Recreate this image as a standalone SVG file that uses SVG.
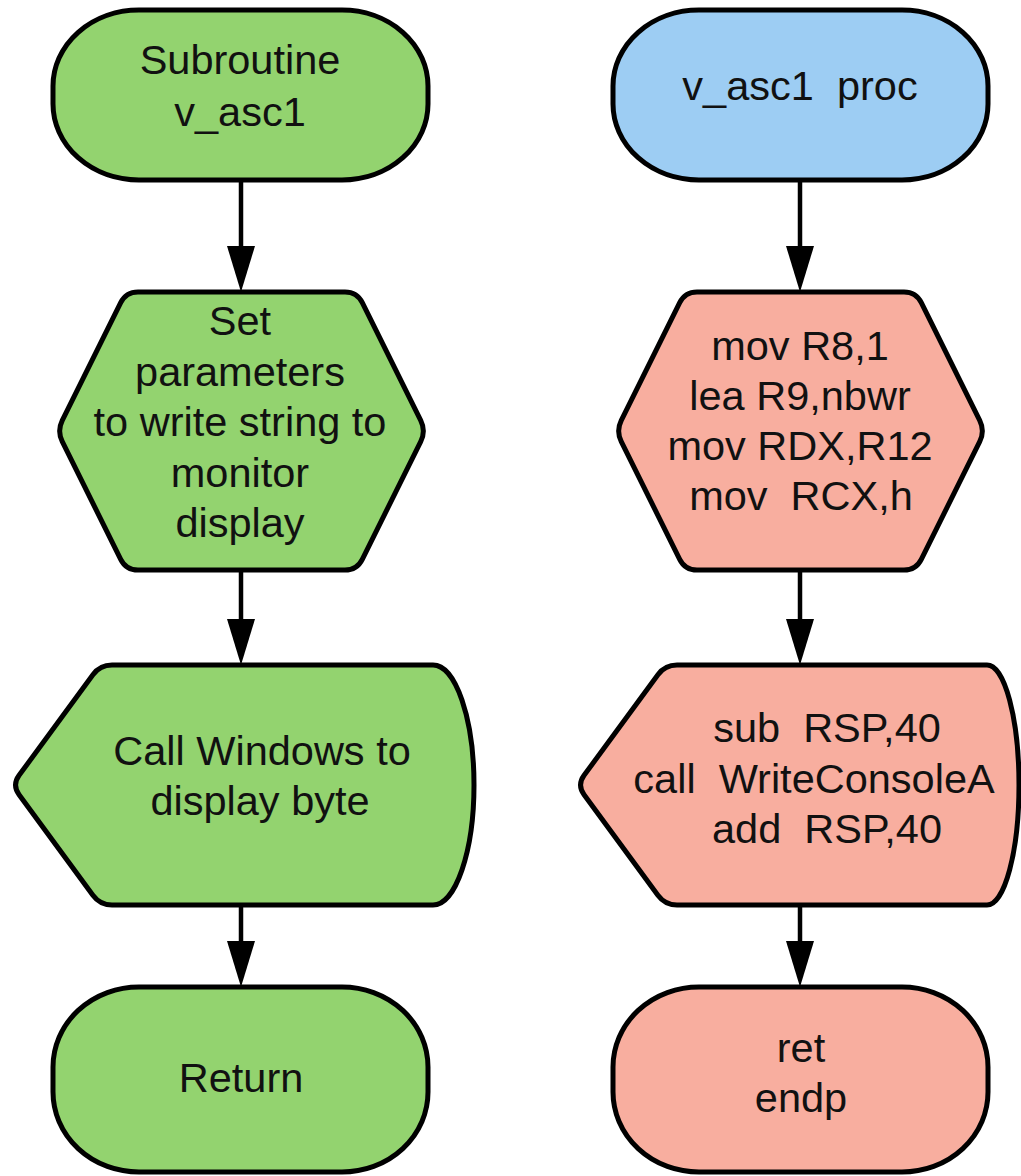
<svg xmlns="http://www.w3.org/2000/svg" width="1021" height="1176" viewBox="0 0 1021 1176">
  <style>
    .shape { stroke: #000; stroke-width: 5; stroke-linejoin: round; }
    .green { fill: #93d36f; }
    .blue { fill: #9dcdf3; }
    .pink { fill: #f8ae9f; }
    .label { font-family: "Liberation Sans", Arial, sans-serif; font-size: 41.5px; fill: #111; text-anchor: middle; }
    .conn { stroke: #000; stroke-width: 4.5; fill: none; }
  </style>
  <defs>
    <!-- arrowhead: tip sits 40px past the end of the line -->
    <marker id="arrow" viewBox="0 -14 46 28" refX="6" refY="0" markerWidth="46" markerHeight="28" markerUnits="userSpaceOnUse" orient="auto">
      <path d="M0,-14 L46,0 L0,14 Z" fill="#000"/>
    </marker>
    <!-- preparation hexagon, centred on the origin -->
    <path id="hex" d="M-103.5,-139 L103.5,-139 Q115.5,-139 120.8,-128.3 L179.2,-10.7 Q184.5,0 179.2,10.7 L120.8,128.3 Q115.5,139 103.5,139 L-103.5,139 Q-115.5,139 -120.8,128.3 L-179.2,10.7 Q-184.5,0 -179.2,-10.7 L-120.8,-128.3 Q-115.5,-139 -103.5,-139 Z"/>
  </defs>

  <g id="connectors">
    <line class="conn" x1="241" y1="182" x2="241" y2="252" marker-end="url(#arrow)"/>
    <line class="conn" x1="241" y1="572" x2="241" y2="625" marker-end="url(#arrow)"/>
    <line class="conn" x1="241" y1="907" x2="241" y2="947" marker-end="url(#arrow)"/>
    <line class="conn" x1="800" y1="182" x2="800" y2="252" marker-end="url(#arrow)"/>
    <line class="conn" x1="800" y1="572" x2="800" y2="625" marker-end="url(#arrow)"/>
    <line class="conn" x1="800" y1="907" x2="800" y2="947" marker-end="url(#arrow)"/>
  </g>

  <!-- left column -->
  <g id="start-subroutine">
    <rect class="shape green" x="53" y="10" width="375" height="170" rx="86" ry="76"/>
    <text class="label" x="240" y="74">Subroutine</text>
    <text class="label" x="240" y="126">v_asc1</text>
  </g>
  <g id="set-parameters">
    <use href="#hex" class="shape green" transform="translate(241.5,431)"/>
    <text class="label" x="240" y="335">Set</text>
    <text class="label" x="240" y="386">parameters</text>
    <text class="label" x="240" y="436">to write string to</text>
    <text class="label" x="240" y="487">monitor</text>
    <text class="label" x="240" y="537">display</text>
  </g>
  <g id="call-windows">
    <path class="shape green" d="M112,665 L433,665 A41,120 0 0 1 433,905 L112,905 Q100,905 92.9,895.3 L19.1,794.7 Q12,785 19.1,775.3 L92.9,674.7 Q100,665 112,665 Z"/>
    <text class="label" x="262" y="765">Call Windows to</text>
    <text class="label" x="260" y="815">display byte</text>
  </g>
  <g id="return">
    <rect class="shape green" x="53" y="987" width="375" height="185" rx="86" ry="80"/>
    <text class="label" x="241" y="1092">Return</text>
  </g>

  <!-- right column -->
  <g id="proc-start">
    <rect class="shape blue" x="613" y="10" width="375" height="170" rx="86" ry="76"/>
    <text class="label" x="800" y="100" xml:space="preserve">v_asc1  proc</text>
  </g>
  <g id="load-registers">
    <use href="#hex" class="shape pink" transform="translate(800.5,431)"/>
    <text class="label" x="800" y="360">mov R8,1</text>
    <text class="label" x="800" y="410">lea R9,nbwr</text>
    <text class="label" x="800" y="460">mov RDX,R12</text>
    <text class="label" x="801" y="510" xml:space="preserve">mov  RCX,h</text>
  </g>
  <g id="write-console">
    <path class="shape pink" d="M677,665 L987,665 A32,120 0 0 1 987,905 L677,905 Q665,905 657.9,895.3 L584.1,794.7 Q577,785 584.1,775.3 L657.9,674.7 Q665,665 677,665 Z"/>
    <text class="label" x="827" y="742" xml:space="preserve">sub  RSP,40</text>
    <text class="label" x="814" y="793" xml:space="preserve">call  WriteConsoleA</text>
    <text class="label" x="827" y="843" xml:space="preserve">add  RSP,40</text>
  </g>
  <g id="proc-end">
    <rect class="shape pink" x="613" y="987" width="375" height="185" rx="86" ry="80"/>
    <text class="label" x="801" y="1062">ret</text>
    <text class="label" x="801" y="1112">endp</text>
  </g>
</svg>
